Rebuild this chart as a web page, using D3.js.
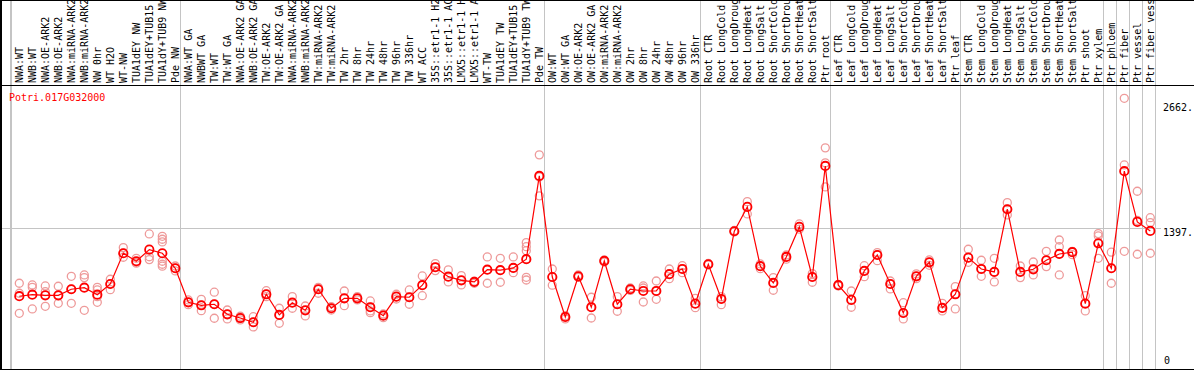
<!DOCTYPE html>
<html>
<head>
<meta charset="utf-8">
<script src="https://cdn.jsdelivr.net/npm/d3@7"></script>
<style>
html,body{margin:0;padding:0;background:#fff;}
svg{display:block;}
text{font-family:"DejaVu Sans Mono",monospace;font-size:10px;}
</style>
</head>
<body>
<script>
const geneId = "Potri.017G032000";

const categories = [
"NWA:WT","NWB:WT","NWA:OE-ARK2","NWB:OE-ARK2","NWA:miRNA-ARK2","NWB:miRNA-ARK2","NW 0hr","WT H2O","WT-NW","TUA1dEY NW","TUA1dEY+TUB15 NW","TUA1dY+TUB9 NW","Pde NW",
"NWA:WT GA","NWBWT GA","TW:WT","TW:WT GA","NWA:OE-ARK2 GA","NWB:OE-ARK2 GA","TW:OE-ARK2","TW:OE-ARK2 GA","NWA:miRNA-ARK2","NWB:miRNA-ARK2","TW:miRNA-ARK2","TW:miRNA-ARK2","TW 2hr","TW 8hr","TW 24hr","TW 48hr","TW 96hr","TW 336hr","WT ACC","35S::etr1-1 H2O","35S::etr1-1 ACC","LMX5::etr1-1 H2O","LMX5::etr1-1 ACC","WT-TW","TUA1dEY TW","TUA1dEY+TUB15 TW","TUA1dY+TUB9 TW","Pde TW",
"OW:WT","OW:WT GA","OW:OE-ARK2","OW:OE-ARK2 GA","OW:miRNA-ARK2","OW:miRNA-ARK2","OW 2hr","OW 8hr","OW 24hr","OW 48hr","OW 96hr","OW 336hr",
"Root CTR","Root LongCold","Root LongDrought","Root LongHeat","Root LongSalt","Root ShortCold","Root ShortDrought","Root ShortHeat","Root ShortSalt","Ptr root",
"Leaf CTR","Leaf LongCold","Leaf LongDrought","Leaf LongHeat","Leaf LongSalt","Leaf ShortCold","Leaf ShortDrought","Leaf ShortHeat","Leaf ShortSalt","Ptr leaf",
"Stem CTR","Stem LongCold","Stem LongDrought","Stem LongHeat","Stem LongSalt","Stem ShortCold","Stem ShortDrought","Stem ShortHeat","Stem ShortSalt","Ptr shoot","Ptr xylem",
"Ptr phloem","Ptr fiber","Ptr vessel","Ptr fiber vessel"
];

// index of first category of each group (group separators)
const groupStarts = [0,13,41,53,63,73,84,85,86,87,88];

const meanValues = [
737,752,746,746,805,820,752,856,1155,1077,1190,1155,1009,
678,649,659,561,525,484,756,555,674,600,805,620,717,717,630,548,733,727,844,1019,927,892,876,995,990,1012,1097,1907,
924,535,931,630,1080,659,805,788,788,951,1002,665,
1048,710,1369,1606,1029,866,1119,1411,924,2004,
844,701,983,1138,856,574,931,1067,623,756,
1112,1002,973,1583,973,999,1087,1148,1165,665,1252,
1009,1953,1460,1372
];

const replicateValues = [
[863,766,571],[847,824,613],[837,781,639],[834,742,668],[931,805,668],[944,918,600],[824,798,733,678],[902,856,801],[1210,1155,1116],[1106,1067,1058],[1343,1121,1093],[1320,1291,1265,1077,1048,1029],[1031,1009,983],
[701,678,655],[707,649,596],[776,659,523],[603,561,516],[542,523,506],[538,484,438],[791,756,733],[620,555,474],[733,674,620],[642,600,545],[824,805,766],[635,620,603],[788,717,645],[733,717,701],[691,630,594,577],[564,548,528],[756,733,710],[798,727,659],[934,844,742],[1054,1019,986],[993,927,876],[937,892,847],[883,876,863],[1119,995,863],[1106,990,873],[1119,1012,966],[1258,1219,1180,1097,921,895],[2112,1897,1713],
[1002,924,844],[548,535,516],[944,931,920],[727,630,525],[1090,1080,1070],[733,659,591],[817,805,793],[837,817,681],[885,788,707],[1002,951,908],[1034,1002,966],[717,665,626],
[1056,1048,1041],[733,710,655],[1377,1369,1362],[1657,1606,1537],[1051,1029,1005],[918,866,795],[1138,1119,1097],[1440,1411,1389],[957,924,873],[2180,2034,1800],
[851,844,837],[788,701,630],[1034,983,927],[1161,1138,1083],[885,856,808],[674,574,516],[954,931,908],[1090,1067,1038],[668,623,594],[830,756,613],
[1194,1112,1067],[1087,1002,931],[1106,973,876],[1647,1583,1528],[1031,973,918],[1070,999,944],[1174,1087,1025],[1284,1219,1148,944],[1174,1165,1141],[742,665,594],[1346,1323,1252,1106],
[1165,1009,863],[2662,2014,1174],[1758,1474,1145],[1501,1453,1155]
];

const axisTickValues = [0, 1397, 2662];
const axisTickLabels = ["0", "1397.", "2662."];

const W = 1194, H = 370;
const svg = d3.select("body").append("svg").attr("width", W).attr("height", H);

const idx = d3.range(categories.length);
const x = d3.scaleBand().domain(d3.range(categories.length + 1)).range([11.5, 11.5 + 13 * (categories.length + 1)]).padding(0);
const step = x.step();
const cx = i => x(i) + 7.8;
const y = d3.scaleLinear().domain([0, 2662]).range([372, 98.3]);

// vertical group separators
svg.append("g").selectAll("line").data(groupStarts).join("line")
  .attr("x1", d => x(d)).attr("x2", d => x(d))
  .attr("y1", 0).attr("y2", H)
  .attr("stroke", "#c4c4c4").attr("stroke-width", 1);
svg.append("line").attr("x1", 10.5).attr("x2", 10.5).attr("y1", 0).attr("y2", H)
  .attr("stroke", "#c4c4c4");

// horizontal grid line at middle tick
svg.append("g").selectAll("line").data(axisTickValues.filter(v => v > 0 && v < 2662)).join("line")
  .attr("x1", 2).attr("x2", 1161)
  .attr("y1", d => Math.round(y(d)) + 0.5).attr("y2", d => Math.round(y(d)) + 0.5)
  .attr("stroke", "#c4c4c4");

// frame lines
svg.append("line").attr("x1", 0).attr("x2", W).attr("y1", 0.5).attr("y2", 0.5).attr("stroke", "#000");
svg.append("line").attr("x1", 0).attr("x2", W).attr("y1", 85.5).attr("y2", 85.5).attr("stroke", "#000");
svg.append("line").attr("x1", 0).attr("x2", W).attr("y1", 369.5).attr("y2", 369.5).attr("stroke", "#000");
svg.append("line").attr("x1", 1).attr("x2", 1).attr("y1", 0).attr("y2", H).attr("stroke", "#000").attr("stroke-width", 2);

// category labels (rotated)
svg.append("g").selectAll("text").data(idx).join("text")
  .attr("transform", i => `translate(${cx(i) + 4},83) rotate(-90)`)
  .attr("text-anchor", "start")
  .attr("fill", "#000")
  .text(i => categories[i]);

// gene id
svg.append("text").attr("x", 9).attr("y", 101).attr("fill", "#ff0000").text(geneId);

// y tick labels
svg.append("g").selectAll("text").data(axisTickValues).join("text")
  .attr("x", (d, i) => d === 0 ? 1164 : 1163)
  .attr("y", d => Math.max(111, Math.min(364, y(d) + 8)))
  .attr("fill", "#000")
  .text((d, i) => axisTickLabels[i]);

// replicates
const reps = [];
replicateValues.forEach((arr, i) => arr.forEach(v => reps.push({i, v})));
svg.append("g").selectAll("circle").data(reps).join("circle")
  .attr("cx", d => cx(d.i)).attr("cy", d => y(d.v)).attr("r", 4)
  .attr("fill", "none").attr("stroke", "#ee9a9a").attr("stroke-width", 1.3);

// mean line
svg.append("path").datum(idx)
  .attr("d", d3.line().x(i => cx(i)).y(i => y(meanValues[i])))
  .attr("fill", "none").attr("stroke", "#ff0000").attr("stroke-width", 1.2);

// mean circles
svg.append("g").selectAll("circle").data(idx).join("circle")
  .attr("cx", i => cx(i)).attr("cy", i => y(meanValues[i])).attr("r", 4.2)
  .attr("fill", "none").attr("stroke", "#ff0000").attr("stroke-width", 1.8);
</script>
</body>
</html>
